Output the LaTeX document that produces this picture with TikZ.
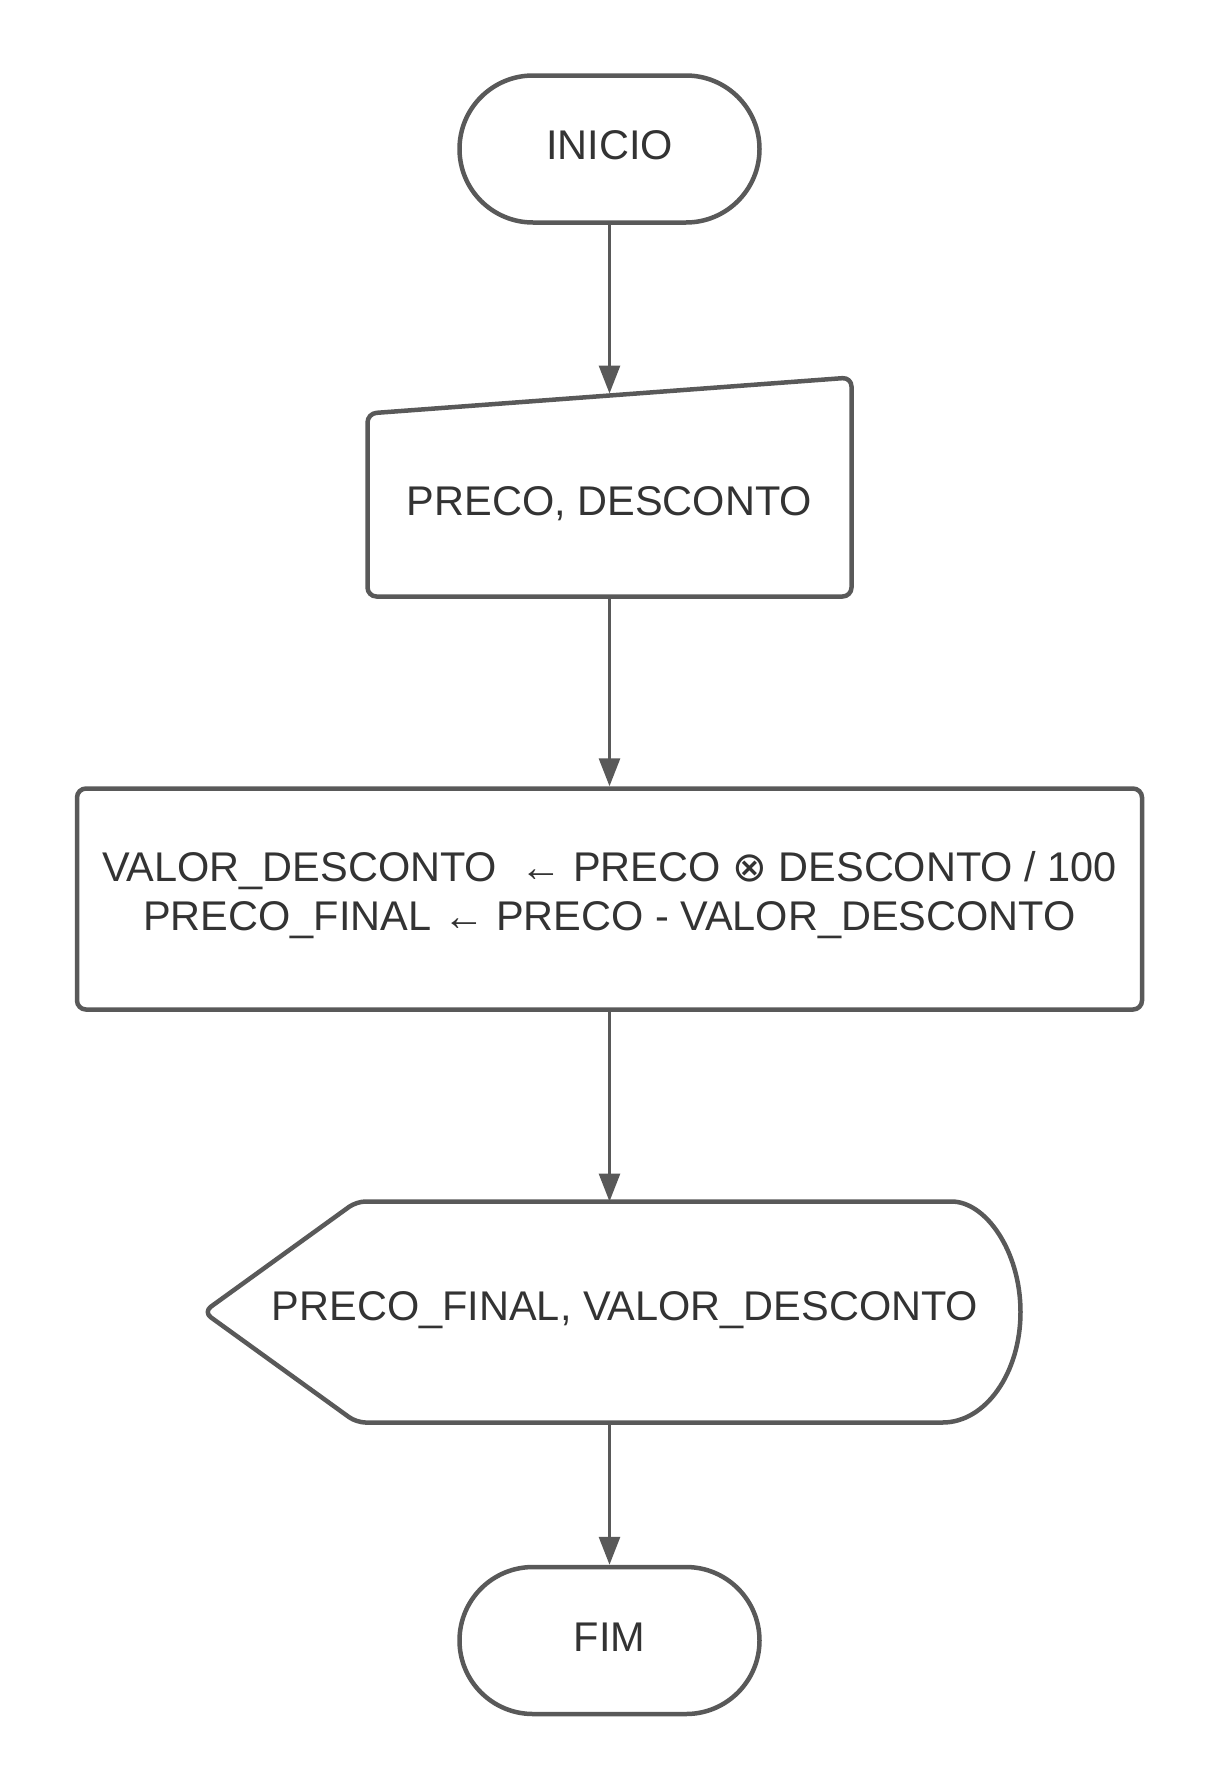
\documentclass[tikz,border=0pt]{standalone}
\usepackage{fontspec}
\setmainfont{Liberation Sans}
\newfontfamily\symfont{DejaVu Sans}
\usetikzlibrary{arrows.meta,shapes.misc,calc}
\definecolor{linha}{HTML}{595959}
\definecolor{texto}{HTML}{333333}
\tikzstyle{terminal}=[rounded rectangle,draw=linha,line width=4.5pt,minimum width=300pt,minimum height=147pt,inner sep=0pt,text height=30pt,text depth=9pt]
\tikzstyle{entradabox}=[rectangle,minimum width=484pt,minimum height=183pt,inner sep=0pt,outer sep=0pt,text height=30pt,text depth=10pt]
\tikzstyle{processo}=[rectangle,rounded corners=9pt,draw=linha,line width=4.5pt,minimum width=1065pt,minimum height=221pt,align=center,inner sep=0pt,text depth=16pt]
\tikzstyle{saidabox}=[rectangle,minimum width=817pt,minimum height=221pt,inner sep=0pt,outer sep=0pt,text height=30pt,text depth=14pt]
\tikzstyle{moldura}=[draw=linha,line width=4.5pt,line join=round]
\tikzstyle{edge}=[draw=linha,line width=3pt,-{Triangle[length=28pt,width=21pt]}]

\begin{document}
\begin{tikzpicture}[x=1pt,y=-1pt,font=\fontsize{41.5}{49}\selectfont,text=texto]
    \useasboundingbox (0,0) rectangle (1219,1791);
    % First we draw the blocks
    \node[terminal] (inicio) at (609.5,149) {INICIO};
    \node[entradabox] (entrada) at (609.5,505) {PRECO, DESCONTO};
    \node[processo] (calculo) at (609.5,899) {VALOR\_DESCONTO\ \ ← PRECO {\symfont ⊗} DESCONTO / 100\\PRECO\_FINAL ← PRECO - VALOR\_DESCONTO};
    \node[saidabox] (saida) at (612,1312) {\hspace*{26pt}PRECO\_FINAL, VALOR\_DESCONTO};
    \node[terminal] (fim) at (609.5,1640.5) {FIM};

    % manual input and display outlines
    \draw[moldura,rounded corners=9pt] (entrada.south west) -- (entrada.north west)
        -- ($(entrada.north east)+(0,-36)$) -- (entrada.south east) -- cycle;
    \draw[moldura,rounded corners=9pt] (saida.west) -- ($(saida.north west)+(153,0)$)
        -- ($(saida.north east)+(-78,0)$) [sharp corners]
        arc[start angle=90,end angle=-90,x radius=78pt,y radius=110.5pt]
        [rounded corners=9pt] -- ($(saida.south west)+(153,0)$) -- cycle;

    \coordinate (entrada-top) at ($(entrada.north)+(0,-20)$);
    \coordinate (saida-top) at (calculo.south |- saida.north);
    \coordinate (saida-bot) at (calculo.south |- saida.south);

    % Connect blocks with arrows
    \foreach \source/ \dest in {inicio.south/entrada-top, entrada.south/calculo.north, calculo.south/saida-top, saida-bot/fim.north}
        \path[edge] (\source) -- (\dest);
\end{tikzpicture}
\end{document}
